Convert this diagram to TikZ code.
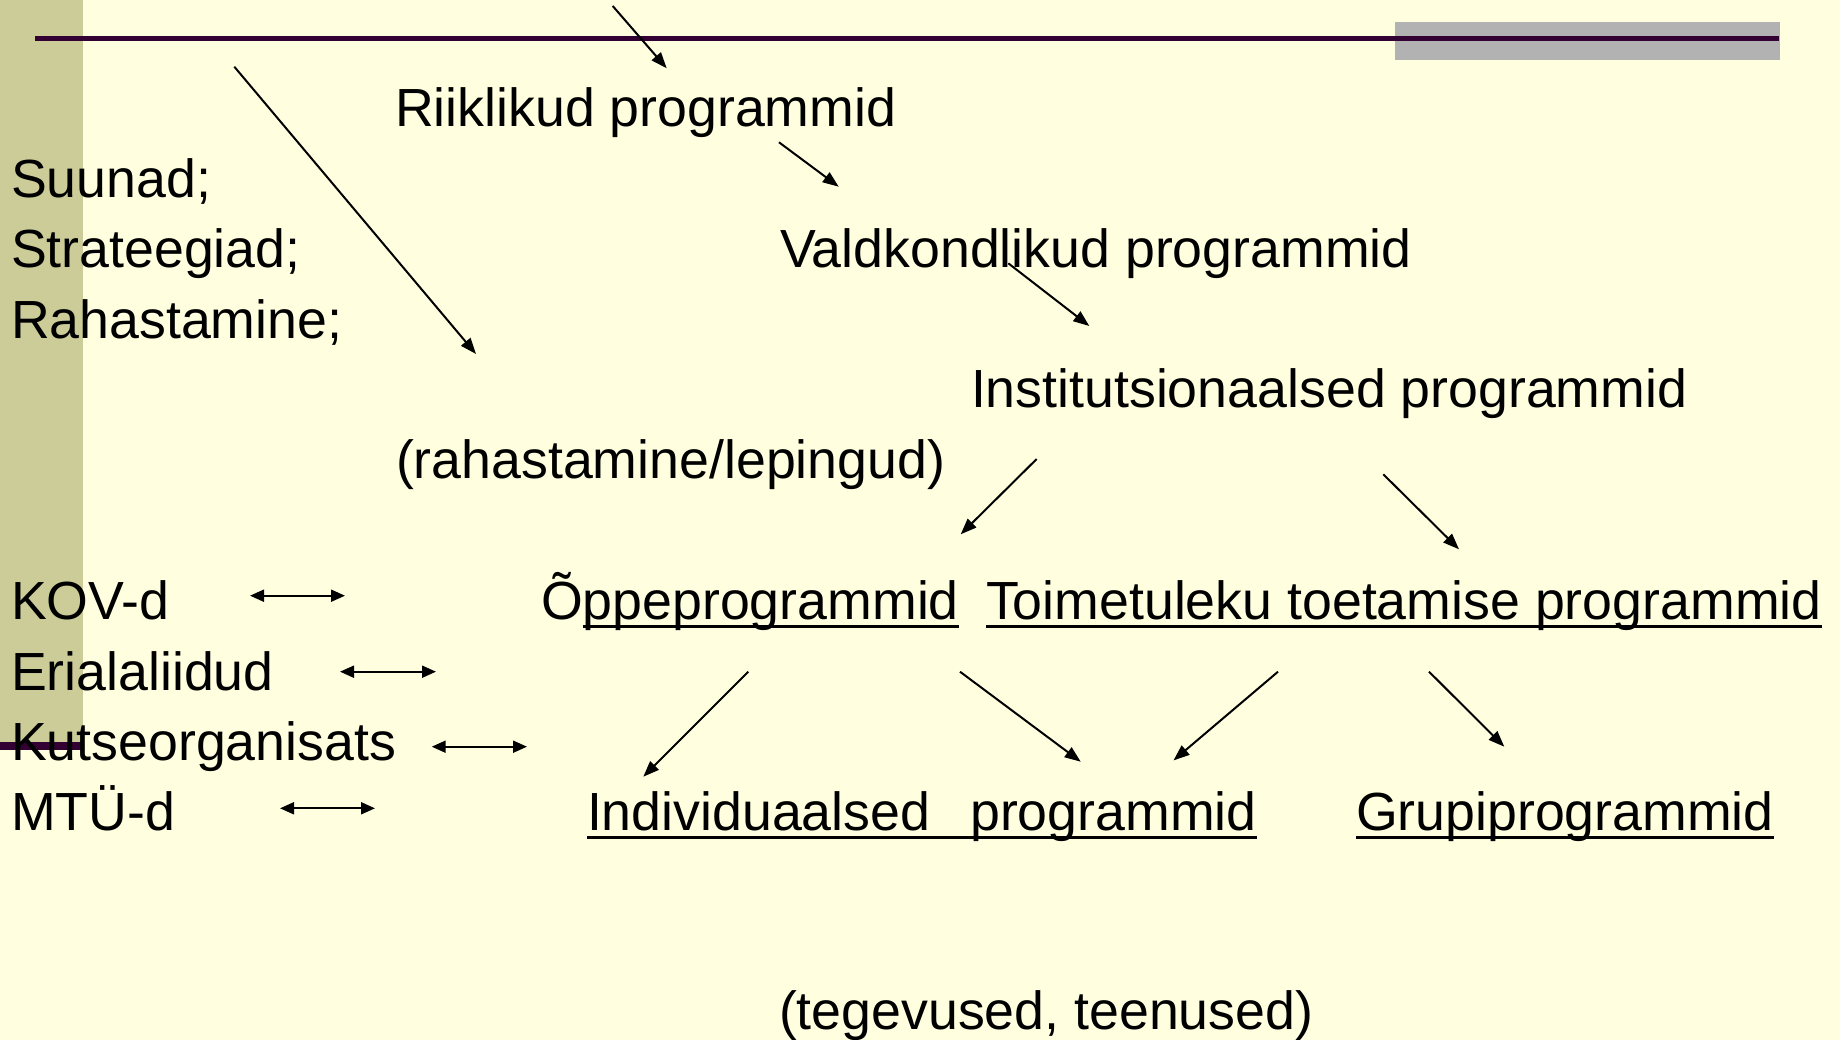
\documentclass[tikz,border=0pt]{standalone}
\usepackage{fontspec}
\setmainfont{Liberation Sans}
\usetikzlibrary{arrows.meta}
\definecolor{bgyellow}{RGB}{255,255,224}
\definecolor{olivebar}{RGB}{204,204,153}
\definecolor{darkpurple}{RGB}{51,0,51}
\definecolor{bargray}{RGB}{178,178,178}
\newcommand\myul[1]{\setbox0\hbox{#1}\rlap{\rule[-8.5pt]{\wd0}{3.5pt}}\box0}
\begin{document}
\begin{tikzpicture}[x=1pt,y=-1pt,
  txt/.style={anchor=base west,inner sep=0pt,outer sep=0pt,font=\fontsize{53.7}{60}\selectfont},
  arr/.style={line width=2pt,-{Triangle[length=16pt,width=12pt]}},
  darr/.style={line width=2pt,{Triangle[length=14pt,width=12pt]}-{Triangle[length=14pt,width=12pt]}}]
\useasboundingbox (0,0) rectangle (1840,1040);
\fill[bgyellow] (0,0) rectangle (1840,1040);
\fill[olivebar] (0,0) rectangle (83,745);
\fill[bargray] (1395,22) rectangle (1780,60.5);
\fill[darkpurple] (35,36.3) rectangle (1779,40.7);
\fill[darkpurple] (0,742) rectangle (83,750);

% text nodes
\node[txt] (riik) at (395,126.7) {Riiklikud programmid};
\node[txt] (suunad) at (11,198) {Suunad;};
\node[txt] (strat) at (11,268) {Strateegiad;};
\node[txt] (rahast) at (11,338.5) {Rahastamine;};
\node[txt] (valdk) at (780,267.5) {Valdkondlikud programmid};
\node[txt] (inst) at (971,408) {Institutsionaalsed programmid};
\node[txt] (leping) at (396,478.8) {(rahastamine/lepingud)};
\node[txt] (kov) at (11,619.5) {KOV-d};
\node[txt] (eriala) at (11,690) {Erialaliidud};
\node[txt] (kutse) at (11,760.3) {Kutseorganisats};
\node[txt] (mtu) at (11,830.7) {MTÜ-d};
\node[txt] (oppe) at (541,619.5) {Õ\myul{ppeprogrammid}};
\node[txt] (toime) at (986,619.5) {\myul{Toimetuleku toetamise programmid}};
\node[txt] (indiv) at (587,830.7) {\myul{Individuaalsed\hspace{40pt}programmid}};
\node[txt] (grupi) at (1356,830.7) {\myul{Grupiprogrammid}};
\node[txt] (teg) at (779,1029) {(tegevused, teenused)};

% arrow end points
\coordinate (a1s) at (612.7,6);     \coordinate (a1e) at (666.7,68.3);
\coordinate (a2s) at (234.3,66.7);  \coordinate (a2e) at (476,354);
\coordinate (a3s) at (779,142.3);   \coordinate (a3e) at (838.7,186.7);
\coordinate (a4s) at (1008.3,263.3);\coordinate (a4e) at (1089.3,326);
\coordinate (a5s) at (1036.7,459);  \coordinate (a5e) at (960.7,534.3);
\coordinate (a6s) at (1383.3,474.3);\coordinate (a6e) at (1459,549.3);
\coordinate (a7s) at (748.3,671.7); \coordinate (a7e) at (643.3,776.7);
\coordinate (a8s) at (960,671.7);   \coordinate (a8e) at (1080.7,761.7);
\coordinate (a9s) at (1278,671.7);  \coordinate (a9e) at (1173.5,760.4);
\coordinate (a10s) at (1429,671.7); \coordinate (a10e) at (1504.3,746.7);
\coordinate (d1s) at (250,595.7);   \coordinate (d1e) at (345,595.7);
\coordinate (d2s) at (340,671.7);   \coordinate (d2e) at (436,671.7);
\coordinate (d3s) at (431.7,746.7); \coordinate (d3e) at (527,746.7);
\coordinate (d4s) at (280,808.3);   \coordinate (d4e) at (375,808.3);

\foreach \i in {1,...,10} {\draw[arr] (a\i s) -- (a\i e);}
\foreach \i in {1,...,4} {\draw[darr] (d\i s) -- (d\i e);}
\end{tikzpicture}
\end{document}
